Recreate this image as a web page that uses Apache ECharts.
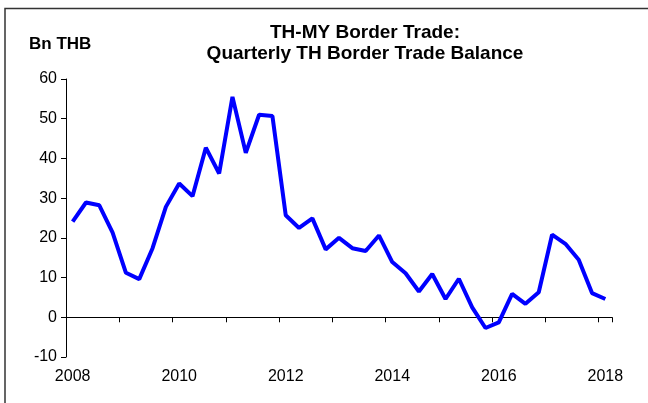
<!DOCTYPE html>
<html>
<head>
<meta charset="utf-8">
<script src="https://cdn.jsdelivr.net/npm/echarts@6/dist/echarts.min.js"></script>
<style>
html,body{margin:0;padding:0;background:#fff;}
#main{width:648px;height:403px;}
</style>
</head>
<body>
<div id="main"></div>
<script>
var titleLines = ['TH-MY Border Trade:', 'Quarterly TH Border Trade Balance'];
var unitLabel = 'Bn THB';
var years = ['2008','2009','2010','2011','2012','2013','2014','2015','2016','2017','2018'];
var quarters = ['Q1','Q2','Q3','Q4'];
var categories = [];
years.forEach(function (y) {
  quarters.forEach(function (q) {
    if (categories.length < 41) categories.push(y + ' ' + q);
  });
});
var tradeBalance = [
  24.1, 28.9, 28.2, 21.3,
  11.2, 9.6, 17.4, 27.8,
  33.7, 30.5, 42.7, 36.2,
  55.5, 41.4, 51.0, 50.7,
  25.7, 22.5, 24.9, 17.1,
  20.0, 17.4, 16.7, 20.6,
  13.9, 11.1, 6.5, 10.9,
  4.6, 9.7, 2.5, -2.7,
  -1.3, 5.9, 3.4, 6.3,
  20.8, 18.5, 14.5, 6.1,
  4.6
];
var yTicks = { min: -10, max: 60, step: 10 };

var chart = echarts.init(document.getElementById('main'), null, { renderer: 'canvas' });
var font = 'Liberation Sans, Arial, sans-serif';
chart.setOption({
  animation: false,
  backgroundColor: '#ffffff',
  title: {
    text: titleLines.join('\n'),
    left: 365,
    top: 22,
    padding: 0,
    textAlign: 'center',
    textStyle: { fontFamily: font, fontSize: 19, fontWeight: 'bold', color: '#000', lineHeight: 21 }
  },
  graphic: [
    { type: 'polyline', shape: { points: [[5, 403], [5, 8.5], [648, 8.5]] }, style: { stroke: '#333', lineWidth: 1.5, fill: null } },
    { type: 'text', left: 29, top: 36, style: { text: unitLabel, font: 'bold 17px ' + font, fill: '#000' } }
  ],
  grid: { left: 66, right: 36, top: 79, height: 278, containLabel: false },
  xAxis: [
    {
      type: 'category',
      data: categories,
      boundaryGap: true,
      axisLine: { onZero: true, lineStyle: { color: '#000', width: 1 } },
      axisTick: { show: true, interval: 3, length: 5, lineStyle: { color: '#000' } },
      axisLabel: { show: false },
      splitLine: { show: false }
    },
    {
      type: 'category',
      data: categories,
      position: 'bottom',
      boundaryGap: true,
      axisLine: { show: false, onZero: false },
      axisTick: { show: false },
      axisLabel: {
        interval: 7,
        margin: 12,
        fontFamily: font,
        fontSize: 16,
        color: '#000',
        formatter: function (v) { return v.slice(0, 4); }
      },
      splitLine: { show: false }
    }
  ],
  yAxis: {
    type: 'value',
    min: yTicks.min,
    max: yTicks.max,
    interval: yTicks.step,
    axisLine: { show: true, lineStyle: { color: '#000', width: 1 } },
    axisTick: { show: true, length: 5, lineStyle: { color: '#000' } },
    axisLabel: { fontFamily: font, fontSize: 16, color: '#000', margin: 9 },
    splitLine: { show: false }
  },
  series: [{
    type: 'line',
    xAxisIndex: 0,
    data: tradeBalance,
    showSymbol: false,
    lineStyle: { color: '#0000FF', width: 4 },
    itemStyle: { color: '#0000FF' }
  }]
});
</script>
</body>
</html>
